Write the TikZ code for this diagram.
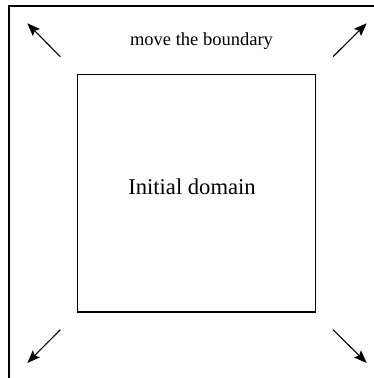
\documentclass[tikz,border=0pt]{standalone}
\usepackage{fontspec}
\setmainfont{Liberation Serif}
\usetikzlibrary{arrows.meta}
\begin{document}
\begin{tikzpicture}[x=1pt,y=-1pt,
  frame/.style={line width=1.3pt},
  movearrow/.style={line width=1.1pt,-{Stealth[length=13pt,width=10pt,inset=2.5pt]}},
  domainbox/.style={draw,line width=1.3pt,minimum width=238pt,minimum height=237.5pt,inner sep=0pt}]
\useasboundingbox (0,0) rectangle (374,378);
% outer boundary (open towards the right and bottom)
\draw[frame] (9,378) -- (9,6) -- (374,6);
% initial domain
\node[domainbox] (domain) at (196.6,193.25) {};
\node[anchor=base,font=\fontsize{22.6}{26}\selectfont] (domainlabel) at (192,194) {Initial domain};
\node[anchor=base,font=\fontsize{18.5}{22}\selectfont] (movelabel) at (201.5,45) {move the boundary};
% arrows pointing outwards at the corners
\coordinate (tlA) at (60.3,56.7);  \coordinate (tlB) at (27.3,23.3);
\coordinate (trA) at (333,56.7);   \coordinate (trB) at (366.7,23.3);
\coordinate (blA) at (60.3,329.7); \coordinate (blB) at (27.3,363);
\coordinate (brA) at (333,329.7);  \coordinate (brB) at (366.7,363);
\draw[movearrow] (tlA) -- (tlB);
\draw[movearrow] (trA) -- (trB);
\draw[movearrow] (blA) -- (blB);
\draw[movearrow] (brA) -- (brB);
\end{tikzpicture}
\end{document}
